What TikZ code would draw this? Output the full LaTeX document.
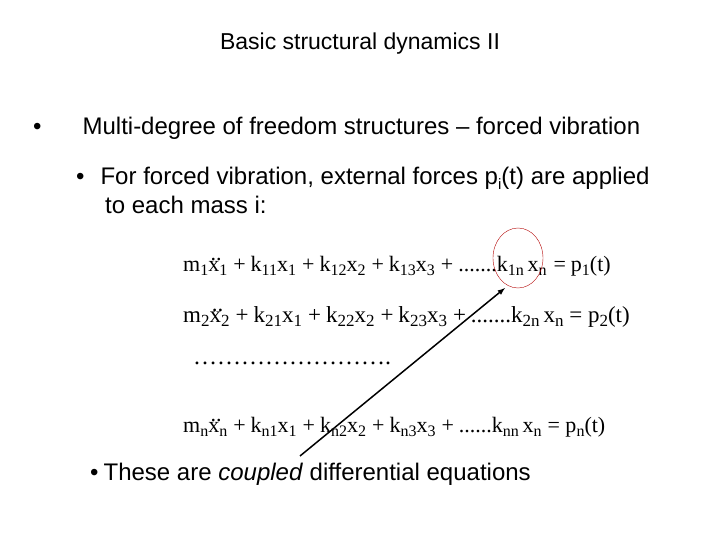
\documentclass[tikz,border=0pt]{standalone}
\usetikzlibrary{shapes.geometric}
\usepackage{fontspec}
\setmainfont{Liberation Sans}
\newfontfamily\eqf{Liberation Serif}
\def\losz{15}
\newcommand{\lo}[1]{\raisebox{-0.4ex}{\fontsize{\losz}{\losz}\selectfont #1}}
\newcommand{\xdd}{\rlap{\raisebox{0.5em}{\hspace{0.1em}..}}x}
\newcommand{\pl}{\hspace{6pt}+\hspace{5pt}}
\begin{document}
\begin{tikzpicture}[x=1pt,y=-1pt,
  txt/.style={anchor=west,inner sep=0pt,font=\fontsize{24}{29}\selectfont},
  eq/.style={anchor=west,inner sep=0pt,font=\eqf\fontsize{22}{24}\selectfont\def\losz{16}}]
\useasboundingbox (0,0) rectangle (720,540);
\node[inner sep=0pt,font=\fontsize{23}{26}\selectfont] (title) at (360,44) {Basic structural dynamics II};
\node[txt] (b1) at (33,128) {\textbullet\hspace{41pt}Multi-degree of freedom structures -- forced vibration};
\node[txt,align=left,anchor=north west] (b2) at (76,167) {\textbullet\hspace{16pt}For forced vibration, external forces p\lo{i}(t) are applied\\\hspace{29pt}to each mass i:};
\node[eq] (e1) at (183,266) {m\lo{1}\xdd\lo{1}\pl k\lo{11}x\lo{1}\pl k\lo{12}x\lo{2}\pl k\lo{13}x\lo{3}\pl .......k\lo{1n}\,x\lo{n}\hspace{7pt}=\hspace{5pt}p\lo{1}(t)};
\node[eq,font=\eqf\fontsize{23}{26}\selectfont\def\losz{17}] (e2) at (183,317) {m\lo{2}\xdd\lo{2}\pl k\lo{21}x\lo{1}\pl k\lo{22}x\lo{2}\pl k\lo{23}x\lo{3}\pl .......k\lo{2n}\,x\lo{n}\ = p\lo{2}(t)};
\node[eq,font=\eqf\fontsize{24}{26}\selectfont] (dots) at (193,363) {\dots\dots\dots\dots\dots\dots\dots\dots.};
\node[eq] (en) at (183,427) {m\lo{n}\xdd\lo{n}\pl k\lo{n1}x\lo{1}\pl k\lo{n2}x\lo{2}\pl k\lo{n3}x\lo{3}\pl ......k\lo{nn}\,x\lo{n}\hspace{6pt}= p\lo{n}(t)};
\node[txt] (b3) at (90,474) {\textbullet\hspace{5pt}These are \textit{coupled} differential equations};
\node[draw=red!70!black,ellipse,minimum width=50pt,minimum height=60pt,inner sep=0pt] (circ) at (518,258) {};
\coordinate (start) at (300,456);
\draw[-latex,line width=1.5pt] (start) -- (505,288);
\end{tikzpicture}
\end{document}
